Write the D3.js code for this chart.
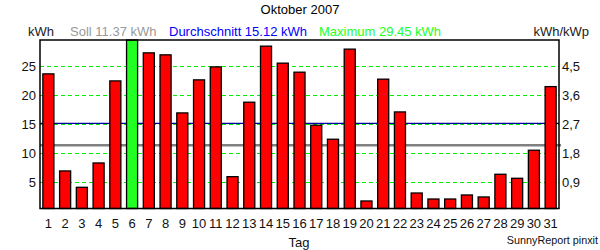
<!DOCTYPE html>
<html>
<head>
<meta charset="utf-8">
<script src="https://cdn.jsdelivr.net/npm/d3@7"></script>
<style>
  body { margin: 0; background: #fff; }
  text { font-family: "Liberation Sans", Arial, sans-serif; }
</style>
</head>
<body>
<div id="chart"></div>
<script>
// daily yield in kWh, Oktober 2007
const days = d3.range(1, 32);
const kwh = [23.63, 6.95, 4.14, 8.32, 22.42, 29.45, 27.24, 26.90, 16.92, 22.60,
  24.83, 5.97, 18.76, 28.39, 25.47, 23.92, 14.81, 12.40, 27.88, 1.79,
  22.72, 17.09, 3.16, 2.13, 2.13, 2.82, 2.48, 6.38, 5.69, 10.51, 21.44];
const leftTicks = [5, 10, 15, 20, 25];
const rightTickLabels = ["0,9", "1,8", "2,7", "3,6", "4,5"];
const soll = 11.37;
const avg = 15.12;
const maxVal = 29.45;

const W = 600, H = 250;
const plot = { left: 40, right: 559, top: 40, bottom: 208.5 };

const svg = d3.select("#chart").append("svg")
  .attr("width", W)
  .attr("height", H);

var x = d3.scaleBand()
  .domain(days)
  .range([plot.left, plot.right])
  .paddingInner(0.34)
  .paddingOuter(0.17);

var y = d3.scaleLinear()
  .domain([0, maxVal])
  .range([211.4, plot.top]);

// title
svg.append("text")
  .attr("x", 300).attr("y", 14)
  .attr("text-anchor", "middle")
  .style("font-size", "13px")
  .style("fill", "#000")
  .text("Oktober 2007");

// header line
const header = [
  { t: "kWh", x: 28, c: "#1a1a1a" },
  { t: "Soll 11.37 kWh", x: 70, c: "#999999" },
  { t: "Durchschnitt 15.12 kWh", x: 169, c: "#0000ff" },
  { t: "Maximum 29.45 kWh", x: 319, c: "#22ff22" }
];
svg.selectAll(".hdr")
  .data(header)
  .enter().append("text")
  .attr("class", "hdr")
  .attr("x", d => d.x).attr("y", 36)
  .style("font-size", "13px")
  .style("fill", d => d.c)
  .text(d => d.t);

svg.append("text")
  .attr("x", 589).attr("y", 36)
  .attr("text-anchor", "end")
  .style("font-size", "13px")
  .style("fill", "#1a1a1a")
  .text("kWh/kWp");

// green dashed grid
svg.selectAll(".grid")
  .data(leftTicks)
  .enter().append("line")
  .attr("class", "grid")
  .attr("x1", plot.left).attr("x2", plot.right)
  .attr("y1", d => Math.round(y(d)) + 0.5)
  .attr("y2", d => Math.round(y(d)) + 0.5)
  .attr("stroke", "#00ee00")
  .attr("stroke-width", 1)
  .attr("stroke-dasharray", "4,3");

// average line
svg.append("line")
  .attr("x1", plot.left).attr("x2", plot.right)
  .attr("y1", y(avg)).attr("y2", y(avg))
  .attr("stroke", "#0000a0")
  .attr("stroke-width", 1.2);

// soll line
svg.append("line")
  .attr("x1", plot.left).attr("x2", plot.right + 2)
  .attr("y1", y(soll)).attr("y2", y(soll))
  .attr("stroke", "#808080")
  .attr("stroke-width", 2.5);

// bars
svg.selectAll(".bar")
  .data(kwh)
  .enter().append("rect")
  .attr("class", "bar")
  .attr("x", (d, i) => x(days[i]))
  .attr("y", d => y(d))
  .attr("width", x.bandwidth())
  .attr("height", d => plot.bottom - y(d))
  .attr("fill", d => d === maxVal ? "#22ff22" : "#ff0000")
  .attr("stroke", "#000")
  .attr("stroke-width", 1.3);

// frame
svg.append("rect")
  .attr("x", plot.left).attr("y", plot.top)
  .attr("width", plot.right - plot.left)
  .attr("height", plot.bottom - plot.top)
  .attr("fill", "none")
  .attr("stroke", "#000")
  .attr("stroke-width", 1.5);

// left tick labels
svg.selectAll(".ltick")
  .data(leftTicks)
  .enter().append("text")
  .attr("class", "ltick")
  .attr("x", 36)
  .attr("y", d => y(d) + 5)
  .attr("text-anchor", "end")
  .style("font-size", "13px")
  .style("fill", "#111")
  .text(d => d);

// right tick labels (kWh/kWp)
svg.selectAll(".rtick")
  .data(leftTicks)
  .enter().append("text")
  .attr("class", "rtick")
  .attr("x", 562)
  .attr("y", d => y(d) + 5)
  .style("font-size", "13px")
  .style("fill", "#111")
  .text((d, i) => rightTickLabels[i]);

// day labels
svg.selectAll(".xtick")
  .data(days)
  .enter().append("text")
  .attr("class", "xtick")
  .attr("x", d => x(d) + x.bandwidth() / 2)
  .attr("y", 228)
  .attr("text-anchor", "middle")
  .style("font-size", "13px")
  .style("fill", "#111")
  .text(d => d);

svg.append("text")
  .attr("x", 299).attr("y", 247)
  .attr("text-anchor", "middle")
  .style("font-size", "13px")
  .style("fill", "#111")
  .text("Tag");

svg.append("text")
  .attr("x", 598).attr("y", 244)
  .attr("text-anchor", "end")
  .style("font-size", "10.8px")
  .style("fill", "#111")
  .text("SunnyReport pinxit");
</script>
</body>
</html>
